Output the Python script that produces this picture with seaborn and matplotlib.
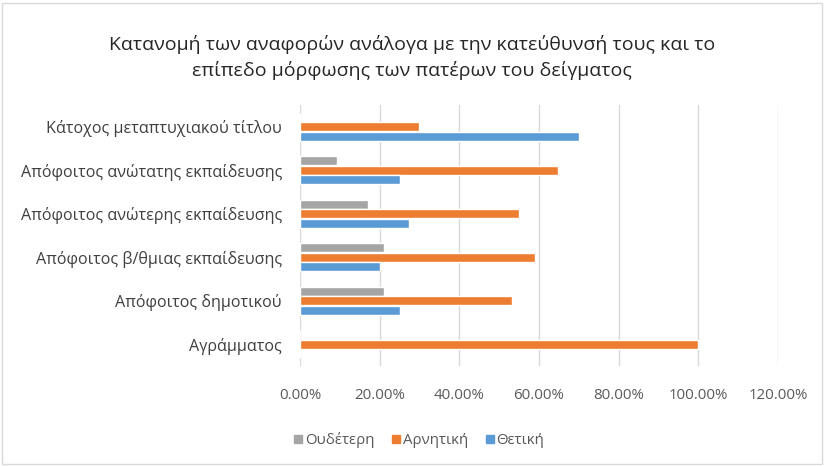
import pandas as pd
import matplotlib.pyplot as plt
import matplotlib.ticker as mtick
import seaborn as sns

# --- Data ---
categories = [
    "Κάτοχος μεταπτυχιακού τίτλου",
    "Απόφοιτος ανώτατης εκπαίδευσης",
    "Απόφοιτος ανώτερης εκπαίδευσης",
    "Απόφοιτος β/θμιας εκπαίδευσης",
    "Απόφοιτος δημοτικού",
    "Αγράμματος",
]
series_names = ["Ουδέτερη", "Αρνητική", "Θετική"]
neutral = [0.0, 0.092, 0.17, 0.21, 0.21, 0.0]
negative = [0.30, 0.648, 0.551, 0.59, 0.533, 1.0]
positive = [0.70, 0.252, 0.274, 0.20, 0.252, 0.0]
tick_values = [0, 0.2, 0.4, 0.6, 0.8, 1.0, 1.2]
title = "Κατανομή των αναφορών ανάλογα με την κατεύθυνσή τους και το\nεπίπεδο μόρφωσης των πατέρων του δείγματος"

rows = []
for name, vals in zip(series_names, [neutral, negative, positive]):
    for cat, v in zip(categories, vals):
        rows.append({"cat": cat, "series": name, "value": v})
df = pd.DataFrame(rows)

colors = {"Ουδέτερη": "#A5A5A5", "Αρνητική": "#ED7D31", "Θετική": "#5B9BD5"}

# --- Plot ---
sns.set_style("white")
plt.rcParams["font.family"] = ["Open Sans", "DejaVu Sans"]

fig = plt.figure(figsize=(8.24, 4.66), dpi=100)
ax = fig.add_axes([0.364, 0.2146, 0.58, 0.56])

sns.barplot(data=df, x="value", y="cat", hue="series", order=categories,
            hue_order=series_names, palette=colors, orient="h",
            width=0.66, gap=0.06, saturation=1, ax=ax, legend=False)

ax.set_xlim(0, 1.2)
ax.set_xticks(tick_values)
ax.xaxis.set_major_formatter(mtick.PercentFormatter(xmax=1, decimals=2))
ax.grid(axis="x", color="#D9D9D9", linewidth=1)
ax.set_axisbelow(True)
for s in ax.spines.values():
    s.set_visible(False)
ax.set_xlabel("")
ax.set_ylabel("")
ax.tick_params(axis="x", length=0, labelsize=10.8, colors="#595959", pad=16)
ax.tick_params(axis="y", length=0, labelsize=11.6, colors="#404040", pad=13)

fig.suptitle(title, y=0.925, fontsize=14.0, color="#262626", linespacing=1.45)

handles = [plt.Rectangle((0, 0), 1, 1, color=colors[n]) for n in series_names]
fig.legend(handles, series_names, loc="center", bbox_to_anchor=(0.509, 0.055),
           ncol=3, frameon=False, fontsize=10.8, handlelength=0.5,
           handleheight=0.5, handletextpad=0.2, columnspacing=1.2,
           labelcolor="#595959")

fig.patches.append(plt.Rectangle((0.003, 0.004), 0.994, 0.99, transform=fig.transFigure,
                                 fill=False, edgecolor="#D9D9D9", linewidth=1))

fig.savefig("out.png", dpi=100)
